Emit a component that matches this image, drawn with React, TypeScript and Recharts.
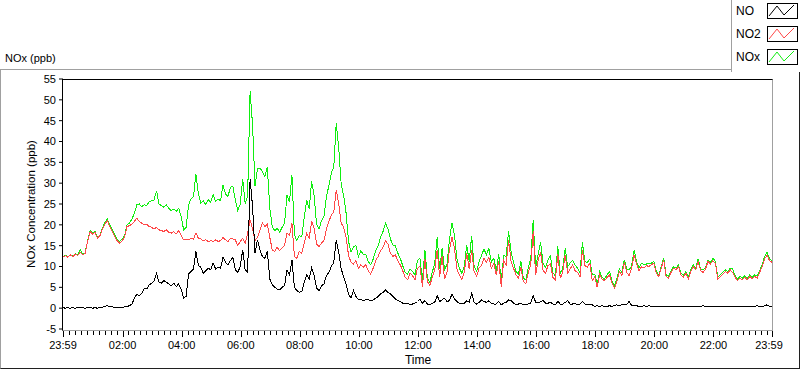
import { Line, LineChart, XAxis, YAxis } from "recharts";

// one sample every 5 minutes, starting at 23:59 of the previous day
const SAMPLE_MIN = 5;

const no = [
  0.1, 0.0, 0.1, 0.0, 0.1, 0.0, 0.1, 0.2, 0.1, 0.0, 0.1, 0.1, 0.0, 0.1, 0.0, 0.1, 0.2, 0.4,
  0.6, 0.4, 0.3, 0.2, 0.1, 0.2, 0.2, 0.3, 0.4, 0.6,
  1.0, 2.4, 3.4, 3.0, 3.6, 4.8, 4.6, 5.6, 6.0, 6.6,
  8.4, 6.2, 6.0, 6.6, 6.2, 5.8, 5.4, 6.0, 5.2, 5.8,
  4.6, 2.4, 2.8, 8.2, 8.8, 9.4, 13.6, 10.2, 9.8, 8.4,
  9.0, 9.6, 9.2, 10.8, 9.4, 9.8, 9.6, 12.2, 11.0, 10.4,
  11.4, 12.2, 9.2, 8.6,
  10.0, 14.0, 9.2, 8.6, 31.0, 24.4, 13.2, 16.4, 14.0, 12.4,
  12.0, 13.6, 7.0, 5.6, 5.0, 4.6, 4.4, 5.0, 5.4, 9.2,
  8.0, 11.6, 5.0, 4.2, 3.8, 4.0, 6.2, 8.0, 7.0, 9.6,
  7.8, 4.8, 4.2, 5.4, 5.8, 7.8, 8.6, 10.0, 11.0, 16.4,
  13.4, 9.4, 7.6, 5.8, 3.4, 2.4, 4.2, 2.8, 2.0, 2.2,
  1.8, 2.0, 2.0, 1.8, 2.0, 2.4, 2.8, 3.4, 3.8, 4.4,
  3.8, 3.4, 2.8, 2.2, 1.8, 1.6, 1.2, 1.0, 1.2, 0.8, 1.0, 1.2,
  1.6, 2.2, 1.2, 1.8, 1.0, 0.8, 1.2, 1.4, 3.0, 1.6, 2.0, 2.4,
  1.6, 1.8, 3.4, 2.2, 1.6, 1.2, 1.0, 1.2, 1.8, 1.4, 3.6, 1.4,
  1.0, 1.4, 2.0, 1.6, 1.4, 1.8, 1.2, 1.0, 1.0, 1.6, 0.8, 1.2,
  1.4, 2.0, 1.8, 1.2, 0.8, 1.0, 1.2, 0.8, 0.8, 1.0, 1.2, 3.0,
  1.4, 1.2, 1.6, 1.8, 1.2, 1.2, 1.4, 1.0, 0.8, 1.6, 1.0, 1.0,
  1.4, 1.8, 1.0, 1.0, 1.2, 0.8, 1.0, 1.6, 1.0, 1.0, 0.8, 0.8,
  0.4, 0.6, 0.4, 0.6, 0.4, 0.4, 0.6, 0.4, 0.6, 0.8, 0.6, 0.8,
  0.8, 1.0, 1.6, 0.6, 0.6, 0.6, 0.4, 0.4, 0.6, 0.4, 0.6, 0.4,
  0.4, 0.3, 0.4, 0.5, 0.4, 0.3, 0.4, 0.4, 0.5, 0.4, 0.3, 0.4,
  0.4, 0.3, 0.4, 0.4, 0.5, 0.4, 0.3, 0.4, 0.6, 0.4, 0.4, 0.3,
  0.4, 0.4, 0.3, 0.4, 0.5, 0.4, 0.3, 0.4, 0.4, 0.3, 0.4, 0.4,
  0.4, 0.3, 0.4, 0.4, 0.3, 0.4, 0.6, 0.4, 0.4, 0.6, 0.8, 0.4, 0.4,
];

const no2 = [
  12.3, 12.6, 12.2, 12.8, 12.4, 13.0, 12.6, 13.4, 12.8, 13.2,
  16.0, 18.4, 17.8, 18.2, 16.8, 17.4, 19.0, 20.2, 21.0, 19.6,
  18.4, 17.2, 16.2, 15.6, 16.2, 17.0, 19.6, 19.8, 20.2, 20.8,
  21.6, 20.8, 20.4, 20.0, 20.2, 19.6, 19.4, 19.0, 19.4, 18.8,
  18.6, 18.4, 18.8, 18.2, 18.0, 18.4, 17.8, 18.6, 17.4, 16.4,
  16.6, 16.4, 16.8, 16.6, 18.0, 16.8, 16.6, 16.2, 16.4, 16.0,
  16.2, 16.0, 16.4, 16.0, 16.2, 17.0, 16.4, 16.0, 16.8, 16.6, 16.4, 15.0,
  16.0, 16.8, 15.6, 18.0, 21.2, 19.0, 16.2, 17.0, 18.8, 20.4,
  19.6, 20.2, 17.0, 14.0, 13.6, 14.6, 13.8, 14.4, 15.0, 18.0,
  17.4, 20.4, 12.4, 12.0, 13.6, 13.2, 15.6, 18.0, 16.8, 20.8,
  19.2, 15.4, 14.8, 15.6, 16.2, 19.0, 20.8, 22.4, 23.0, 28.4,
  25.0, 20.4, 19.4, 17.0, 12.6, 11.0, 10.6, 11.4, 9.6, 10.4,
  9.8, 10.4, 9.0, 8.2, 9.6, 11.4, 12.4, 13.8, 14.6, 16.2,
  15.4, 13.2, 12.4, 12.8, 11.4, 10.4, 9.0, 7.4, 6.8, 8.4, 7.8, 6.8,
  9.6, 10.0, 5.2, 11.8, 6.4, 5.4, 7.4, 9.2, 14.0, 7.6, 12.4, 7.0,
  8.8, 14.2, 17.0, 14.6, 9.4, 8.0, 6.8, 8.6, 13.2, 9.4, 14.0, 8.8,
  7.6, 9.6, 10.2, 12.0, 11.0, 12.2, 9.6, 10.8, 8.0, 11.2, 5.2, 11.4,
  10.4, 16.4, 11.2, 9.6, 8.0, 7.2, 9.8, 6.4, 5.8, 8.6, 10.4, 18.4,
  8.0, 11.6, 13.4, 9.0, 8.4, 10.2, 10.6, 7.4, 6.8, 13.0, 7.2, 8.6,
  12.8, 8.4, 9.4, 10.4, 9.0, 8.6, 7.4, 14.0, 10.2, 9.8, 10.8, 6.6,
  7.6, 5.0, 8.2, 7.0, 6.6, 7.4, 8.0, 6.0, 4.8, 6.4, 8.8, 7.8,
  11.0, 8.6, 7.8, 9.6, 12.8, 10.6, 9.0, 10.0, 9.6, 10.2, 10.0, 10.4,
  10.8, 8.4, 7.6, 9.6, 11.6, 7.6, 7.2, 8.6, 9.6, 9.2, 10.0, 8.0,
  7.4, 8.4, 7.0, 8.8, 10.0, 9.2, 11.2, 9.0, 8.6, 9.4, 11.2, 10.6,
  11.4, 10.8, 7.0, 7.6, 8.2, 8.8, 8.4, 9.2, 8.6, 7.4, 6.6, 7.2,
  6.8, 7.4, 6.8, 7.6, 7.0, 7.6, 7.2, 8.6, 10.0, 11.8, 12.8, 11.4, 11.0,
];

const nox = [
  12.4, 12.7, 12.3, 12.9, 12.5, 13.1, 12.8, 14.0, 12.9, 13.3,
  16.2, 18.6, 18.0, 18.4, 17.0, 17.6, 19.2, 20.6, 21.4, 20.0,
  18.8, 17.6, 16.6, 16.0, 16.6, 17.4, 20.0, 20.4, 21.4, 22.8,
  24.8, 25.0, 24.4, 24.8, 24.6, 25.6, 25.8, 26.0, 28.2, 25.0,
  24.6, 24.2, 24.8, 24.0, 23.4, 23.8, 23.2, 24.0, 22.0, 18.8,
  19.4, 24.8, 26.2, 26.8, 32.2, 27.4, 25.2, 25.8, 24.8, 26.0,
  25.4, 27.2, 25.6, 26.2, 25.8, 29.6, 27.4, 26.8, 29.0, 29.2, 26.0, 23.4,
  25.0, 31.0, 25.0, 27.0, 52.0, 44.0, 29.4, 33.4, 33.6, 32.8,
  31.6, 33.8, 24.0, 19.6, 18.6, 19.2, 18.2, 19.4, 20.4, 27.2,
  25.4, 32.0, 17.6, 16.2, 17.4, 17.2, 21.8, 26.0, 23.8, 30.4,
  27.0, 20.2, 19.0, 21.0, 22.0, 26.8, 29.4, 32.4, 34.0, 44.4,
  38.4, 29.8, 27.0, 22.8, 16.0, 13.4, 14.8, 15.0, 12.4, 13.8,
  12.8, 12.8, 11.2, 10.4, 11.8, 13.8, 15.0, 17.0, 18.4, 20.4,
  19.0, 16.6, 15.2, 15.0, 13.2, 12.0, 10.2, 8.6, 8.2, 9.4, 8.8, 8.0,
  11.4, 12.0, 6.6, 14.0, 7.4, 6.2, 8.6, 10.8, 17.0, 9.4, 14.4, 9.2,
  10.6, 16.6, 20.4, 17.6, 12.0, 9.6, 8.4, 10.0, 15.2, 11.2, 17.4, 10.0,
  8.8, 11.2, 12.6, 14.2, 12.8, 14.4, 11.0, 12.0, 9.0, 13.0, 6.2, 12.6,
  12.4, 18.4, 13.6, 11.0, 8.8, 8.2, 11.2, 7.2, 6.8, 9.8, 11.8, 21.2,
  9.6, 13.0, 15.8, 10.8, 9.8, 11.6, 12.6, 8.4, 7.8, 14.8, 8.2, 9.6,
  14.4, 10.0, 10.8, 11.4, 10.4, 9.6, 8.6, 15.8, 11.2, 11.0, 11.8, 8.0,
  8.2, 5.6, 8.8, 7.4, 7.0, 8.0, 8.8, 6.6, 5.4, 7.2, 9.4, 8.6,
  11.6, 9.4, 9.2, 10.2, 14.0, 11.2, 9.6, 10.8, 10.4, 10.6, 10.8, 10.8,
  11.2, 8.8, 8.0, 10.0, 12.0, 8.0, 7.6, 9.0, 10.0, 9.6, 10.4, 8.4,
  7.8, 8.8, 7.4, 9.2, 10.4, 9.6, 11.8, 9.4, 9.2, 9.8, 11.6, 11.0,
  12.0, 11.2, 7.4, 8.0, 8.6, 9.2, 8.8, 9.6, 9.4, 7.8, 7.0, 7.6,
  7.2, 7.8, 7.2, 8.0, 7.4, 8.0, 7.8, 9.0, 10.4, 12.4, 13.4, 11.8, 11.4,
];

// minutes after 23:59
const majorTicks = [0, 121, 241, 361, 481, 601, 721, 841, 961, 1081, 1201, 1321, 1440];
const majorLabels = [
  "23:59", "02:00", "04:00", "06:00", "08:00", "10:00", "12:00",
  "14:00", "16:00", "18:00", "20:00", "22:00", "23:59",
];
const yTicks = [-5, 0, 5, 10, 15, 20, 25, 30, 35, 40, 45, 50, 55];

const legendItems = [
  { name: "NO", color: "#000000" },
  { name: "NO2", color: "#ff4848" },
  { name: "NOx", color: "#11ee11" },
];

const rows = no.map((v, i) => ({ t: i * SAMPLE_MIN, no: v, no2: no2[i], nox: nox[i] }));

// minor ticks every 12 min on top of the labelled ones
const xTicks: number[] = [0];
for (let m = 13; m < 1440; m += 12) xTicks.push(m);
xTicks.push(1440);

const FONT = "'Liberation Sans', Arial, sans-serif";

function TimeTick(props: any) {
  const { x, y, payload } = props;
  const idx = majorTicks.indexOf(payload.value);
  const major = idx >= 0;
  const last = payload.value === 1440;
  const px = Math.round(x) + 0.5;
  return (
    <g>
      <line x1={px} x2={px} y1={y + 2} y2={y + (major ? 8 : 6)} stroke="#000" shapeRendering="crispEdges" />
      {major && (
        <text x={last ? x - 3 : x} y={y + 20} textAnchor="middle" fontSize={11} fill="#000" fontFamily={FONT}>
          {majorLabels[idx]}
        </text>
      )}
    </g>
  );
}

function Swatch({ color }: { color: string }) {
  return (
    <svg width={31} height={16} style={{ display: "block" }}>
      <rect x={0.5} y={0.5} width={30} height={15} fill="#fff" stroke="#000" />
      <polyline points="2,13 10,3 17,12 27,2" fill="none" stroke={color} strokeWidth={1} />
    </svg>
  );
}

const lineStyle = { shapeRendering: "crispEdges" as const };

export default function App() {
  return (
    <div
      style={{
        position: "absolute",
        left: 0,
        top: 0,
        width: 800,
        height: 369,
        background: "#fff",
        fontFamily: FONT,
        color: "#000",
        overflow: "hidden",
      }}
    >
      {/* outer panel */}
      <div
        style={{
          position: "absolute",
          left: 0,
          top: 69,
          width: 800,
          height: 300,
          boxSizing: "border-box",
          borderTop: "1px solid #a0a0a0",
          borderLeft: "1px solid #a0a0a0",
          borderRight: "1px solid #202020",
          borderBottom: "1px solid #202020",
        }}
      />
      <div style={{ position: "absolute", left: 5, top: 51, fontSize: 11, lineHeight: "14px" }}>NOx (ppb)</div>

      <div style={{ position: "absolute", left: 0, top: 0 }}>
        <LineChart width={800} height={369} data={rows} margin={{ top: 79, right: 28, bottom: 0, left: 0 }}>
          <XAxis
            type="number"
            dataKey="t"
            domain={[0, 1440]}
            ticks={xTicks}
            interval={0}
            height={40}
            tickSize={0}
            tickMargin={0}
            axisLine={false}
            tickLine={false}
            tick={<TimeTick />}
          />
          <YAxis
            type="number"
            domain={[-5, 55]}
            ticks={yTicks}
            interval={0}
            width={63}
            tickSize={4}
            tickMargin={3}
            axisLine={false}
            tickLine={{ stroke: "#000" }}
            tick={{ fontSize: 11, fill: "#000", fontFamily: FONT }}
          />
          <Line type="linear" dataKey="nox" stroke="#11ee11" strokeWidth={1} dot={false} style={lineStyle} isAnimationActive={false} />
          <Line type="linear" dataKey="no2" stroke="#ff4848" strokeWidth={1} dot={false} style={lineStyle} isAnimationActive={false} />
          <Line type="linear" dataKey="no" stroke="#000000" strokeWidth={1} dot={false} style={lineStyle} isAnimationActive={false} />
        </LineChart>
      </div>

      {/* plot frame */}
      <div
        style={{
          position: "absolute",
          left: 62,
          top: 79,
          width: 711,
          height: 252,
          boxSizing: "border-box",
          borderTop: "1px solid #000",
          borderLeft: "1px solid #000",
          borderRight: "1px solid #a0a0a0",
          borderBottom: "1px solid #a0a0a0",
          pointerEvents: "none",
        }}
      />

      <div
        style={{
          position: "absolute",
          left: -69,
          top: 197,
          width: 200,
          height: 14,
          lineHeight: "14px",
          fontSize: 11.5,
          textAlign: "center",
          transform: "rotate(-90deg)",
        }}
      >
        NOx Concentration (ppb)
      </div>
      <div style={{ position: "absolute", left: 388, top: 353, width: 60, textAlign: "center", fontSize: 12, lineHeight: "14px" }}>
        Time
      </div>

      {/* legend */}
      <div
        style={{
          position: "absolute",
          left: 731,
          top: 0,
          width: 69,
          height: 72,
          background: "#fff",
          boxSizing: "border-box",
          borderLeft: "1px solid #a0a0a0",
        }}
      >
        {legendItems.map((it, i) => (
          <div key={it.name} style={{ position: "absolute", left: 0, top: 3 + i * 23, width: 69, height: 16 }}>
            <span style={{ position: "absolute", left: 4, top: 1, fontSize: 12, lineHeight: "14px" }}>{it.name}</span>
            <div style={{ position: "absolute", left: 35, top: 0 }}>
              <Swatch color={it.color} />
            </div>
          </div>
        ))}
      </div>
    </div>
  );
}
